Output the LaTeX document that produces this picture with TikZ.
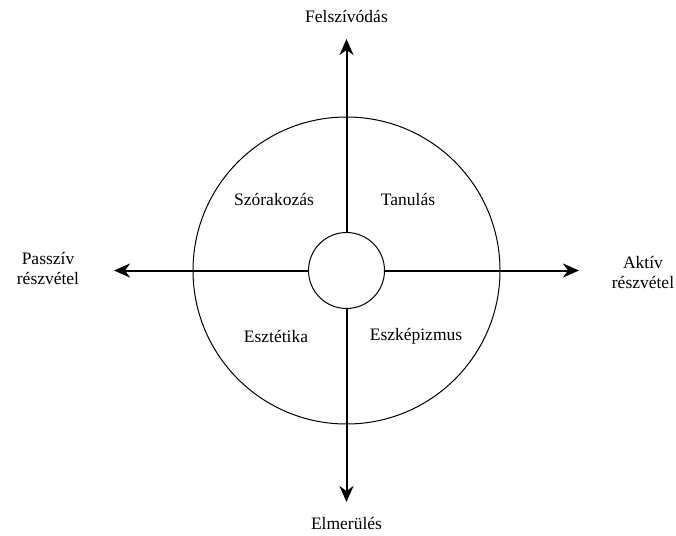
\documentclass[tikz,border=0pt]{standalone}
\usepackage{fontspec}
\setmainfont{Liberation Serif}
\usetikzlibrary{arrows.meta}
\begin{document}
\begin{tikzpicture}[x=1pt,y=-1pt,
  axis/.style={line width=2pt,-{Stealth[length=16pt,width=14pt,inset=5pt]}},
  ring/.style={draw,line width=1pt,circle,inner sep=0pt},
  lbl/.style={font=\fontsize{17.5}{20}\selectfont,align=center,inner sep=0pt}]
\useasboundingbox (0,0) rectangle (676,535);
\node[ring,minimum size=307pt] (big) at (346.5,270.5) {};
\node[ring,minimum size=76pt] (small) at (346.5,270.5) {};
\coordinate (top) at (346.5,39);
\coordinate (bot) at (346.5,502);
\coordinate (left) at (114,270.5);
\coordinate (right) at (579,270.5);
\draw[axis] (small.north) -- (top);
\draw[axis] (small.south) -- (bot);
\draw[axis] (small.west) -- (left);
\draw[axis] (small.east) -- (right);
\node[lbl] (n) at (346.5,17) {Felszívódás};
\node[lbl] (s) at (346.5,523) {Elmerülés};
\node[lbl] (w) at (48,268) {Passzív\\részvétel};
\node[lbl] (e) at (643,272) {Aktív\\részvétel};
\node[lbl] (q1) at (274,199) {Szórakozás};
\node[lbl] (q2) at (408,199) {Tanulás};
\node[lbl] (q3) at (276,336) {Esztétika};
\node[lbl] (q4) at (416,336) {Eszképizmus};
\end{tikzpicture}
\end{document}
